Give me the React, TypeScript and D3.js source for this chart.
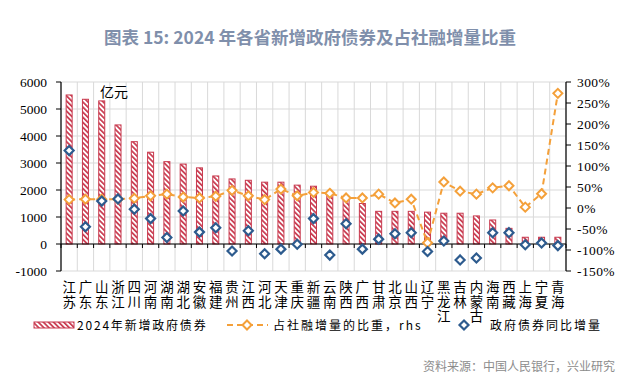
import React from "react";
import * as d3 from "d3";

const categories = ["江苏","广东","山东","浙江","四川","河南","湖南","湖北","安徽","福建","贵州","江西","河北","天津","重庆","新疆","云南","陕西","广西","甘肃","北京","山西","辽宁","黑龙江","吉林","内蒙古","海南","西藏","上海","宁夏","青海"];
const newBonds = [5520,5360,5300,4410,3790,3400,3050,2960,2820,2520,2410,2360,2290,2290,2180,2140,1820,1670,1500,1210,1210,1210,1180,1140,1140,1040,890,580,250,250,250];
const ratioShare = [0.20,0.21,0.21,0.21,0.23,0.29,0.33,0.26,0.24,0.28,0.42,0.29,0.20,0.45,0.29,0.37,0.35,0.24,0.24,0.33,0.12,0.21,-0.83,0.62,0.40,0.33,0.48,0.53,0.02,0.34,2.73];
const yoyIncrease = [3460,640,1590,1670,1290,940,240,1220,440,600,-260,490,-360,-190,-10,940,-410,750,-190,180,380,420,-280,110,-590,-520,420,420,-30,40,-60];
const leftTicks = [-1000,0,1000,2000,3000,4000,5000,6000];
const rightTicks = [-1.5,-1,-0.5,0,0.5,1,1.5,2,2.5,3];

const RED = "#c8394e";
const ORANGE = "#f4a03a";
const BLUE = "#2d5b8e";
const GRID = "#d9d9d9";
const CJK = "'Noto Sans CJK SC', 'Noto Sans', sans-serif";
const SERIF = "'Liberation Serif', 'DejaVu Serif', serif";

function diamond(cx: number, cy: number, r: number) {
  return `M${cx},${cy - r}L${cx + r},${cy}L${cx},${cy + r}L${cx - r},${cy}Z`;
}

export default function App() {
  const x0 = 61, x1 = 566, yTop = 82, yBot = 271;
  const x = d3.scaleBand<string>().domain(categories).range([x0, x1]).padding(0);
  const yL = d3.scaleLinear().domain([-1000, 6000]).range([yBot, yTop]);
  const yR = d3.scaleLinear().domain([-1.5, 3]).range([yBot, yTop]);
  const bw = x.bandwidth();
  const cx = (c: string) => (x(c) as number) + bw / 2;
  const line = d3.line<number>().x((_, i) => cx(categories[i])).y((d) => yR(d));
  const barW = 6;
  const boundaries = d3.range(categories.length + 1).map((i) => x0 + i * bw);

  return (
    <svg width={644} height={380} style={{ position: "absolute", left: 0, top: 0, background: "#fff" }}>
      <defs>
        <pattern id="hatch" patternUnits="userSpaceOnUse" width={3.6} height={3.6} patternTransform="rotate(-45)">
          <rect width={3.6} height={3.6} fill="#fff" />
          <rect x={0} y={0} width={1.7} height={3.6} fill={RED} />
        </pattern>
      </defs>
      <text x={310} y={44} textAnchor="middle" fontFamily={CJK} fontWeight="bold" fontSize={17.5} fill="#7f8fab">
        图表 15: 2024 年各省新增政府债券及占社融增量比重
      </text>

      {/* grid */}
      {leftTicks.map((t) => (
        <line key={"h" + t} x1={x0} x2={x1} y1={yL(t)} y2={yL(t)} stroke={GRID} strokeWidth={1} />
      ))}
      {boundaries.map((b, i) => (
        <line key={"v" + i} x1={b} x2={b} y1={yTop} y2={yBot} stroke={GRID} strokeWidth={1} />
      ))}

      {/* bars */}
      {categories.map((c, i) => (
        <rect key={"b" + c} x={cx(c) - barW / 2} y={yL(newBonds[i])} width={barW} height={yL(0) - yL(newBonds[i])}
          fill="url(#hatch)" stroke={RED} strokeWidth={1} />
      ))}

      {/* zero axis */}
      <line x1={x0} x2={x1} y1={yL(0)} y2={yL(0)} stroke="#000" strokeWidth={1.2} />
      {boundaries.map((b, i) => (
        <line key={"xt" + i} x1={b} x2={b} y1={yL(0)} y2={yL(0) + 4} stroke="#000" strokeWidth={1} />
      ))}

      {/* left axis */}
      <line x1={x0} x2={x0} y1={yTop} y2={yBot} stroke="#000" strokeWidth={1.2} />
      {leftTicks.map((t) => (
        <g key={"lt" + t}>
          <line x1={x0 - 5} x2={x0} y1={yL(t)} y2={yL(t)} stroke="#000" />
          <text x={47} y={yL(t) + 4.5} textAnchor="end" fontFamily={SERIF} fontSize={13.5} fill="#000">{t}</text>
        </g>
      ))}
      {/* right axis */}
      <line x1={x1} x2={x1} y1={yTop} y2={yBot} stroke="#000" strokeWidth={1.2} />
      {rightTicks.map((t) => (
        <g key={"rt" + t}>
          <line x1={x1} x2={x1 + 5} y1={yR(t)} y2={yR(t)} stroke="#000" />
          <text x={577} y={yR(t) + 4.5} textAnchor="start" fontFamily={SERIF} fontSize={13.5} letterSpacing={0.4} fill="#000">{Math.round(t * 100) + "%"}</text>
        </g>
      ))}

      <text x={100} y={97} fontFamily={CJK} fontSize={14} fill="#000">亿元</text>

      {/* orange line */}
      <path d={line(ratioShare) as string} fill="none" stroke={ORANGE} strokeWidth={2} strokeDasharray="6,4" />
      {categories.map((c, i) => (
        <path key={"o" + c} d={diamond(cx(c), yR(ratioShare[i]), 4.5)} fill="#fff" stroke={ORANGE} strokeWidth={2} />
      ))}
      {/* blue markers */}
      {categories.map((c, i) => (
        <path key={"bl" + c} d={diamond(cx(c), yL(yoyIncrease[i]), 4.5)} fill="#fff" stroke={BLUE} strokeWidth={2.2} />
      ))}

      {/* category labels, one character per line */}
      {categories.map((c) =>
        c.split("").map((ch, j) => (
          <text key={"cl" + c + j} x={cx(c)} y={292 + j * 14.5} textAnchor="middle" fontFamily={CJK} fontSize={13.5} fill="#000">{ch}</text>
        ))
      )}

      {/* legend */}
      <rect x={34} y={322} width={40} height={6} fill="url(#hatch)" stroke={RED} strokeWidth={1} />
      <text x={77} y={329.5} fontFamily={CJK} fontSize={12} letterSpacing={1.8} fill="#000">2024年新增政府债券</text>
      <line x1={227} x2={268} y1={325} y2={325} stroke={ORANGE} strokeWidth={2} strokeDasharray="6,4" />
      <path d={diamond(247, 325, 4.5)} fill="#fff" stroke={ORANGE} strokeWidth={2} />
      <text x={273} y={329.5} fontFamily={CJK} fontSize={12} letterSpacing={2} fill="#000">占社融增量的比重，rhs</text>
      <path d={diamond(464, 325, 4.5)} fill="#fff" stroke={BLUE} strokeWidth={2.2} />
      <text x={490} y={329.5} fontFamily={CJK} fontSize={12} letterSpacing={2} fill="#000">政府债券同比增量</text>

      <text x={615} y={371} textAnchor="end" fontFamily={CJK} fontSize={12} fill="#8c8c8c">资料来源：中国人民银行，兴业研究</text>
    </svg>
  );
}
